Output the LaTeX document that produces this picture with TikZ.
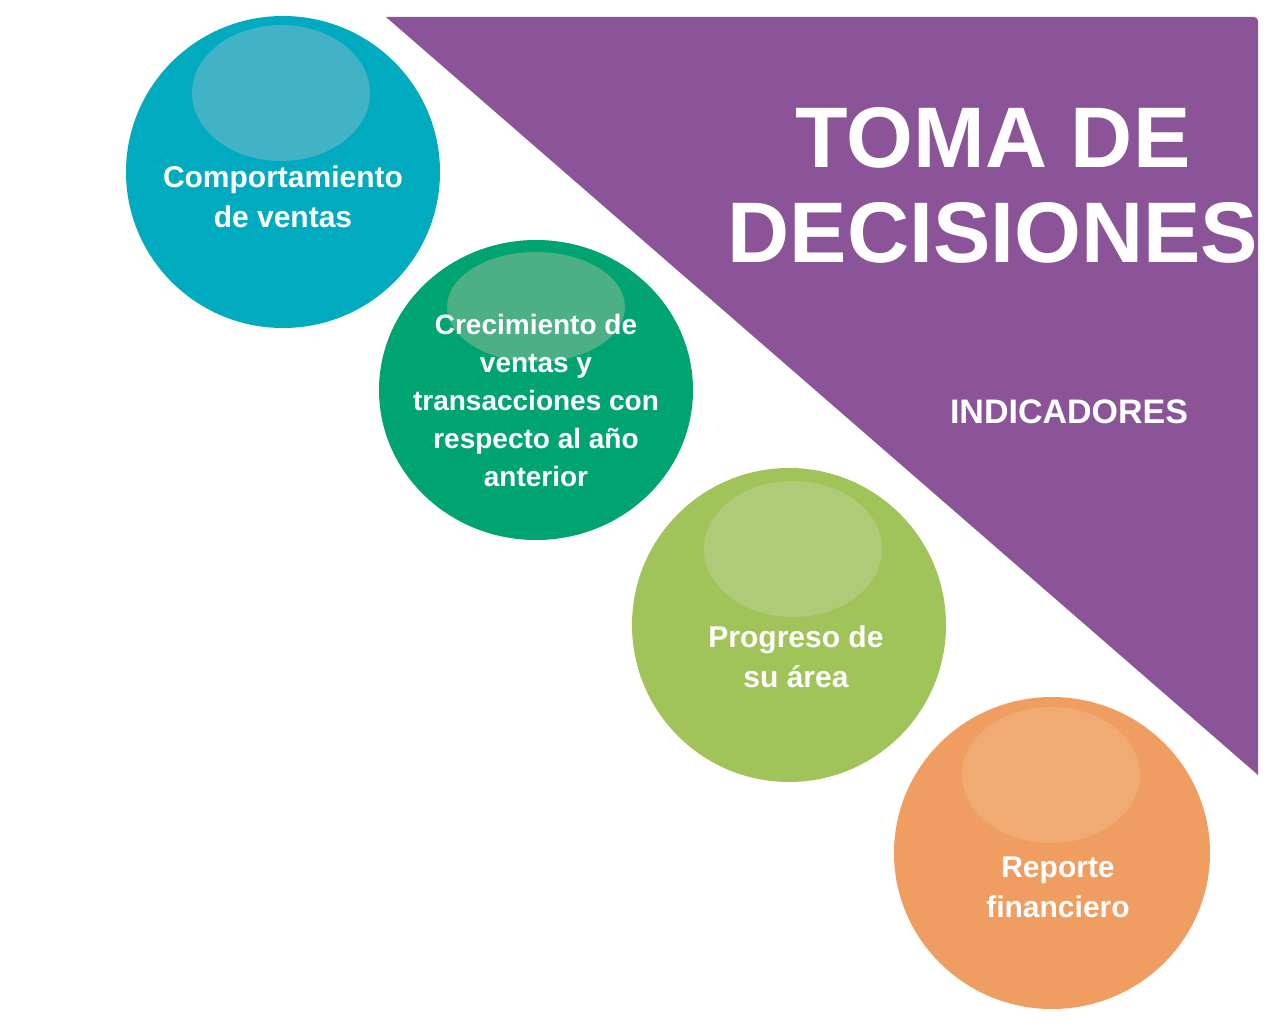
\documentclass[tikz,border=0pt]{standalone}
\usepackage{fontspec}
\setmainfont{Liberation Sans}
\definecolor{cyanc}{HTML}{00AABF}\definecolor{cyanh}{HTML}{42B3C6}
\definecolor{greenc}{HTML}{00A470}\definecolor{greenh}{HTML}{4CAF86}
\definecolor{limec}{HTML}{A1C45A}\definecolor{limeh}{HTML}{B0CB78}
\definecolor{orangec}{HTML}{F09D62}\definecolor{orangeh}{HTML}{F1AB72}
\definecolor{purplec}{HTML}{8B5499}
\begin{document}
\begin{tikzpicture}[x=1pt,y=-1pt,
  lbl/.style={text=white,font=\fontsize{30}{40}\selectfont\bfseries,align=center}]
\useasboundingbox (0,0) rectangle (1280,1024);
\fill[purplec] (386,17) -- (1254,17) to[out=0,in=90] (1258,21) -- (1258,775) -- cycle;
\node[text=white,font=\fontsize{86}{95}\selectfont\bfseries,align=center] (title) at (993,185) {TOMA DE\\DECISIONES};
\node[text=white,font=\fontsize{34}{40}\selectfont\bfseries] (ind) at (1069,412) {INDICADORES};
\fill[cyanc] (283,172) ellipse[x radius=157,y radius=156];
\fill[cyanh] (281,93) ellipse[x radius=89,y radius=68];
\node[lbl] (c1) at (283,197) {Comportamiento\\de ventas};
\fill[greenc] (536,390) ellipse[x radius=157,y radius=150];
\fill[greenh] (536,307) ellipse[x radius=89,y radius=55];
\node[lbl,font=\fontsize{28}{38}\selectfont\bfseries] (c2) at (536,400) {Crecimiento de\\ventas y\\transacciones con\\respecto al año\\anterior};
\fill[limec] (789,625) ellipse[x radius=157,y radius=157];
\fill[limeh] (793,549) ellipse[x radius=89,y radius=68];
\node[lbl] (c3) at (796,657) {Progreso de\\su área};
\fill[orangec] (1052,853) ellipse[x radius=158,y radius=156];
\fill[orangeh] (1051,775) ellipse[x radius=89,y radius=68];
\node[lbl] (c4) at (1058,887) {Reporte\\financiero};
\end{tikzpicture}
\end{document}
